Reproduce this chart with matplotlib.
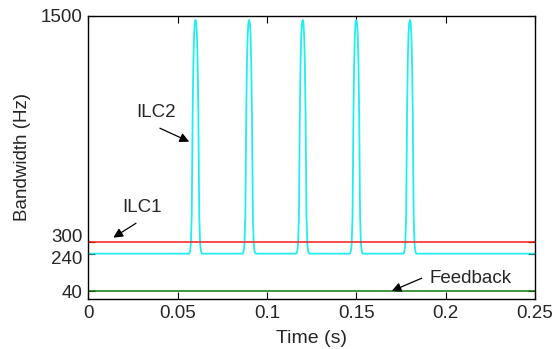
import numpy as np
import matplotlib
matplotlib.use("Agg")
import matplotlib.pyplot as plt
import matplotlib.transforms as mtransforms

# -----------------------------------------
# DATA
# -----------------------------------------
T_END = 0.25

FEEDBACK_BW = 40

ILC1_BW = 300

ILC2_BASE_BW = 240

# centres of the ILC2 bandwidth bursts (s)
PULSE_CENTERS = [0.06, 0.09, 0.12, 0.15, 0.18]

# one burst, left half: time offset from centre (s) and bandwidth (Hz)
PULSE_OFFSETS = [-0.0036, -0.0031, -0.0026, -0.0021, -0.0016, -0.0012, -0.0008, -0.0004, 0.0]
PULSE_VALUES = [240, 250, 290, 440, 980, 1250, 1400, 1462, 1477]

X_TICKS = [0, 0.05, 0.1, 0.15, 0.2, 0.25]
X_TICK_LABELS = ["0", "0.05", "0.1", "0.15", "0.2", "0.25"]
Y_TICKS = [40, 240, 300, 1500]

# -----------------------------------------
# BUILD ILC2 SERIES
# -----------------------------------------
half_t = np.array(PULSE_OFFSETS)
half_v = np.array(PULSE_VALUES, dtype=float)
shape_t = np.concatenate([half_t, -half_t[-2::-1]])
shape_v = np.concatenate([half_v, half_v[-2::-1]])

ilc2_t = [0.0]
ilc2_v = [ILC2_BASE_BW]
for c in PULSE_CENTERS:
    ilc2_t.extend(c + shape_t)
    ilc2_v.extend(shape_v)
ilc2_t.append(T_END)
ilc2_v.append(ILC2_BASE_BW)

# -----------------------------------------
# PLOT
# -----------------------------------------
plt.rcParams["font.family"] = ["Liberation Sans", "DejaVu Sans"]
text_color = "#262626"

fig = plt.figure(figsize=(5.56, 3.49), dpi=100)
ax = fig.add_axes([0.1588, 0.1433, 0.8034, 0.8118])

ax.plot(ilc2_t, ilc2_v, color="#22eeee", lw=1.3)
ax.plot([0, T_END], [ILC1_BW, ILC1_BW], color="#ff1a1a", lw=1.1)
ax.plot([0, T_END], [FEEDBACK_BW, FEEDBACK_BW], color="#0a7a0a", lw=1.1)

ax.set_xlim(0, T_END)
ax.set_ylim(0, 1500)

ax.set_xticks(X_TICKS)
ax.set_xticklabels(X_TICK_LABELS)
ax.set_yticks(Y_TICKS)

ax.tick_params(direction="in", top=True, right=True, length=5,
               labelsize=13.5, colors=text_color, pad=4)
ax.tick_params(axis="both", color="black")
for s in ax.spines.values():
    s.set_linewidth(1.0)
    s.set_color("black")

# nudge the crowded 300 / 240 labels apart, like the original
nudges = {300: 7, 240: -4}
for tick_val, lab in zip(Y_TICKS, ax.get_yticklabels()):
    dy = nudges.get(tick_val, 0)
    if dy:
        off = mtransforms.ScaledTranslation(0, dy / 100, fig.dpi_scale_trans)
        lab.set_transform(lab.get_transform() + off)

ax.set_xlabel("Time (s)", fontsize=14, color=text_color, labelpad=6)
ax.set_ylabel("Bandwidth (Hz)", fontsize=13.5, color=text_color, labelpad=7)

# -----------------------------------------
# ANNOTATIONS
# -----------------------------------------
arrow = dict(arrowstyle="-|>", color="black", lw=0.9,
             mutation_scale=14, shrinkA=0, shrinkB=0)

ax.text(0.0379, 985, "ILC2", fontsize=13.5, color=text_color,
        ha="center", va="center")
ax.annotate("", xy=(0.0565, 833), xytext=(0.0401, 904), arrowprops=arrow)

ax.text(0.0301, 484, "ILC1", fontsize=13.5, color=text_color,
        ha="center", va="center")
ax.annotate("", xy=(0.0140, 325), xytext=(0.0267, 401), arrowprops=arrow)

ax.text(0.2137, 106, "Feedback", fontsize=13.5, color=text_color,
        ha="center", va="center")
ax.annotate("", xy=(0.1698, 42), xytext=(0.1866, 110), arrowprops=arrow)

fig.savefig("out.png", dpi=100)
plt.close(fig)
